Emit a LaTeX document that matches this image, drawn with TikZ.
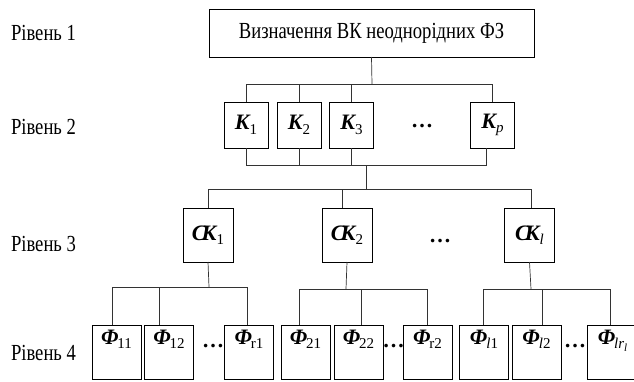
\documentclass[tikz,border=0pt]{standalone}
\usepackage{fontspec}
\setmainfont{Liberation Serif}[FakeStretch=0.81]
\newfontfamily\lblfont{Liberation Serif}
\newcommand{\lbl}[2]{\textbf{\textit{#1}}\kern-1pt\raisebox{-0.45ex}{\fontsize{15}{15}\selectfont #2}}
\newcommand{\flbl}[2]{\raisebox{8pt}[0pt][0pt]{\lbl{#1}{#2}}}
\newcommand{\ssub}[1]{\raisebox{-0.4ex}{\fontsize{11}{11}\selectfont\textit{#1}}}
\begin{document}
\begin{tikzpicture}[x=1pt,y=-1pt,
  every node/.style={inner sep=0pt, outer sep=0pt},
  box/.style={draw=black, line width=0.9pt, fill=white, font=\fontsize{23}{25}\selectfont},
  lbox/.style={box, font=\lblfont\fontsize{22}{24}\selectfont},
  kbox/.style={lbox, minimum width=44pt, minimum height=46pt},
  ckbox/.style={lbox, minimum width=50pt, minimum height=54pt},
  fbox/.style={lbox, minimum width=49pt, minimum height=54pt},
  lvl/.style={anchor=west, font=\fontsize{23}{25}\selectfont},
  dots/.style={font=\lblfont\fontsize{22}{24}\selectfont\bfseries},
  con/.style={draw=black!80, line width=0.7pt}]
\useasboundingbox (0,0) rectangle (634,381);
% level labels
\node[lvl] (l1) at (11,33) {Рівень 1};
\node[lvl] (l2) at (11,127) {Рівень 2};
\node[lvl] (l3) at (11,244) {Рівень 3};
\node[lvl] (l4) at (11,353) {Рівень 4};
% level 1
\node[box, minimum width=325pt, minimum height=48pt] (top) at (371.5,33) {Визначення ВК неоднорідних ФЗ};
% level 2
\node[kbox] (k1) at (246,125) {\lbl{K}{1}};
\node[kbox] (k2) at (299,125) {\lbl{K}{2}};
\node[kbox] (k3) at (351.5,125) {\lbl{K}{3}};
\node[kbox] (kp) at (492.5,125) {\lbl{K}{\textit{p}}};
\node[dots] (kd) at (422,126) {…};
% level 3
\node[ckbox] (c1) at (208,235) {\lbl{С\kern-5ptК}{1}};
\node[ckbox] (c2) at (347,235) {\lbl{С\kern-5ptК}{2}};
\node[ckbox] (cl) at (529.5,235) {\lbl{С\kern-5ptК}{\textit{l}}};
\node[dots] (cd) at (440,241) {…};
% level 4
\node[fbox] (f11) at (116.5,352) {\flbl{Φ}{11}};
\node[fbox] (f12) at (169,352) {\flbl{Φ}{12}};
\node[dots] (fd1) at (213,346) {…};
\node[fbox] (fr1) at (249,352) {\flbl{Φ}{r1}};
\node[fbox] (f21) at (305.5,352) {\flbl{Φ}{21}};
\node[fbox] (f22) at (358.5,352) {\flbl{Φ}{22}};
\node[dots] (fd2) at (393.5,346) {…};
\node[fbox] (fr2) at (427.5,352) {\flbl{Φ}{r2}};
\node[fbox] (fl1) at (484,352) {\flbl{Φ}{\textit{l}1}};
\node[fbox] (fl2) at (536.5,352) {\flbl{Φ}{\textit{l}2}};
\node[dots] (fd3) at (575,346) {…};
\node[fbox, anchor=west] (flr) at (587,352) {\hspace*{2pt}\flbl{Φ}{\textit{lr}\ssub{l}}};
% buses
\coordinate (b1) at (372,84);
\coordinate (b2) at (366,165);
\coordinate (b3) at (366,189);
\coordinate (g1) at (209,287);
\coordinate (g2) at (346,289);
\coordinate (g3) at (531,289);
\draw[con] (top.south) -- (b1);
\draw[con] (k1.north) -- (k1.north |- b1) -- (kp.north |- b1) -- (kp.north);
\draw[con] (k2.north) -- (k2.north |- b1);
\draw[con] (k3.north) -- (k3.north |- b1);
\draw[con] (k1.south) -- (k1.south |- b2) -- ([xshift=-6.5pt]kp.south |- b2) -- ([xshift=-6.5pt]kp.south);
\draw[con] (k2.south) -- (k2.south |- b2);
\draw[con] (k3.south) -- (k3.south |- b2);
\draw[con] (b2) -- (b3);
\draw[con] (c1.north) -- (c1.north |- b3) -- ([xshift=1.5pt]cl.north |- b3) -- ([xshift=1.5pt]cl.north);
\draw[con] ([xshift=-5pt]c2.north) -- ([xshift=-5pt]c2.north |- b3);
\draw[con] (c1.south) -- (g1);
\draw[con] (c2.south) -- (g2);
\draw[con] (cl.south) -- (g3);
\draw[con] ([xshift=-4.5pt]f11.north) -- ([xshift=-4.5pt]f11.north |- g1) -- ([xshift=-2pt]fr1.north |- g1) -- ([xshift=-2pt]fr1.north);
\draw[con] ([xshift=-10pt]f12.north) -- ([xshift=-10pt]f12.north |- g1);
\draw[con] ([xshift=-6.5pt]f21.north) -- ([xshift=-6.5pt]f21.north |- g2) -- (fr2.north |- g2) -- (fr2.north);
\draw[con] ([xshift=2.5pt]f22.north) -- ([xshift=2.5pt]f22.north |- g2);
\draw[con] ([xshift=-1pt]fl1.north) -- ([xshift=-1pt]fl1.north |- g3) -- ([xshift=-1pt]flr.north |- g3) -- ([xshift=-1pt]flr.north);
\draw[con] ([xshift=5.5pt]fl2.north) -- ([xshift=5.5pt]fl2.north |- g3);
\end{tikzpicture}
\end{document}
